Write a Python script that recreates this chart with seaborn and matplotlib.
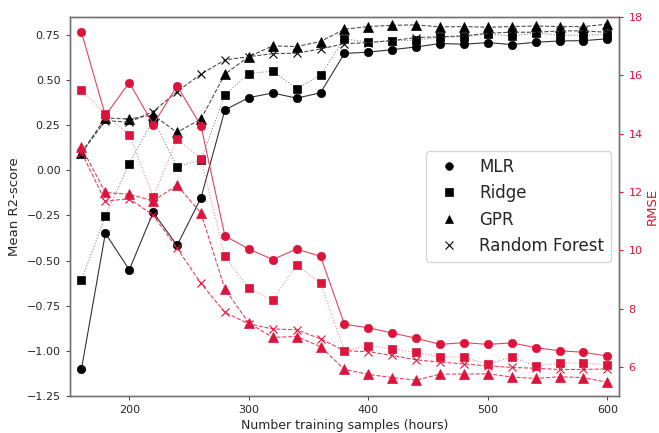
import matplotlib
matplotlib.use("Agg")
import matplotlib.pyplot as plt
import seaborn as sns
import numpy as np
from matplotlib.lines import Line2D

sns.set_style("ticks")

hours = [160, 180, 200, 220, 240, 260, 280, 300, 320, 340, 360, 380,
         400, 420, 440, 460, 480, 500, 520, 540, 560, 580, 600]

r2_mlr = [-1.10, -0.348, -0.551, -0.232, -0.416, -0.152, 0.335, 0.403, 0.429, 0.400, 0.430, 0.648,
          0.655, 0.669, 0.684, 0.703, 0.699, 0.708, 0.697, 0.710, 0.717, 0.719, 0.729]
r2_ridge = [-0.607, -0.252, 0.038, 0.28, 0.021, 0.058, 0.418, 0.535, 0.551, 0.453, 0.527, 0.729,
            0.710, 0.719, 0.721, 0.738, 0.741, 0.755, 0.745, 0.760, 0.750, 0.748, 0.755]
r2_gpr = [0.099, 0.29, 0.285, 0.307, 0.21, 0.285, 0.533, 0.63, 0.69, 0.686, 0.714, 0.782,
          0.797, 0.804, 0.806, 0.795, 0.797, 0.793, 0.797, 0.800, 0.797, 0.797, 0.810]
r2_rf = [0.095, 0.276, 0.267, 0.326, 0.437, 0.533, 0.612, 0.63, 0.647, 0.649, 0.673, 0.702,
         0.708, 0.719, 0.736, 0.740, 0.745, 0.760, 0.766, 0.765, 0.773, 0.773, 0.765]

rmse_mlr = [17.47, 14.62, 15.75, 14.31, 15.64, 14.26, 10.49, 10.04, 9.68, 10.04, 9.79, 7.46,
            7.34, 7.16, 6.98, 6.77, 6.83, 6.77, 6.82, 6.66, 6.55, 6.50, 6.37]
rmse_ridge = [15.51, 14.66, 13.95, 11.84, 13.80, 13.14, 9.79, 8.69, 8.29, 9.50, 8.87, 6.55,
              6.73, 6.61, 6.50, 6.35, 6.32, 6.10, 6.33, 6.03, 6.13, 6.13, 6.07]
rmse_gpr = [13.53, 11.98, 11.92, 11.69, 12.23, 11.27, 8.67, 7.50, 7.01, 7.04, 6.69, 5.91,
            5.74, 5.63, 5.54, 5.75, 5.75, 5.76, 5.65, 5.60, 5.66, 5.63, 5.47]
rmse_rf = [13.35, 11.68, 11.77, 11.20, 10.07, 8.86, 7.87, 7.47, 7.30, 7.27, 6.96, 6.55,
           6.52, 6.39, 6.24, 6.16, 6.10, 6.03, 5.98, 5.95, 5.91, 5.91, 5.93]

labels = ["MLR", "Ridge", "GPR", "Random Forest"]
markers = ["o", "s", "^", "x"]
styles = ["-", ":", "--", "--"]
RED = "#dc143c"

fig = plt.figure(figsize=(6.59, 4.33), dpi=100)
ax = fig.add_axes([0.1055, 0.0855, 0.8343, 0.8753])
ax2 = ax.twinx()

r2_series = [r2_mlr, r2_ridge, r2_gpr, r2_rf]
rmse_series = [rmse_mlr, rmse_ridge, rmse_gpr, rmse_rf]
black_line = ["0.2", "0.55", "0.3", "0.3"]
red_line = ["#e2445f", "#f08fa0", "#e2445f", "#e2445f"]

def msize(m):
    return {"o": 6, "s": 6, "^": 6.5, "x": 6}[m]

for y, m, ls, lc in zip(r2_series, markers, styles, black_line):
    sns.lineplot(x=hours, y=y, ax=ax, color=lc, linestyle=ls, lw=0.8,
                 marker=m, markersize=msize(m),
                 markerfacecolor="black", markeredgecolor="black",
                 markeredgewidth=0.8 if m == "x" else 0.5)
for y, m, ls, lc in zip(rmse_series, markers, styles, red_line):
    sns.lineplot(x=hours, y=y, ax=ax2, color=lc, linestyle=ls, lw=0.8,
                 marker=m, markersize=msize(m),
                 markerfacecolor=RED, markeredgecolor=RED,
                 markeredgewidth=0.8 if m == "x" else 0.5)

ax.set_xlim(150, 610)
ax.set_ylim(-1.25, 0.85)
ax.set_yticks(np.arange(-1.25, 0.76, 0.25))
ax.set_xticks([200, 300, 400, 500, 600])
ax2.set_ylim(5, 18)
ax2.set_yticks([6, 8, 10, 12, 14, 16, 18])

ax.tick_params(labelsize=8, length=3, color="0.3")
ax2.tick_params(axis="y", labelsize=8, length=3, colors=RED)
for a in (ax, ax2):
    for s in a.spines.values():
        s.set_color("0.45")
        s.set_linewidth(1.0)

ax.set_xlabel("Number training samples (hours)", fontsize=9, labelpad=3)
ax.set_ylabel("Mean R2-score", fontsize=9.5)
ax2.set_ylabel("RMSE", fontsize=9.5, color=RED, labelpad=2)

handles = [Line2D([], [], linestyle="none", marker=m, color="black",
                  markersize=5.5, markeredgewidth=0.8 if m == "x" else 0.5)
           for m in markers]
ax2.legend(handles, labels, loc="center right", fontsize=12, frameon=True)

fig.savefig("out.png", dpi=100)
